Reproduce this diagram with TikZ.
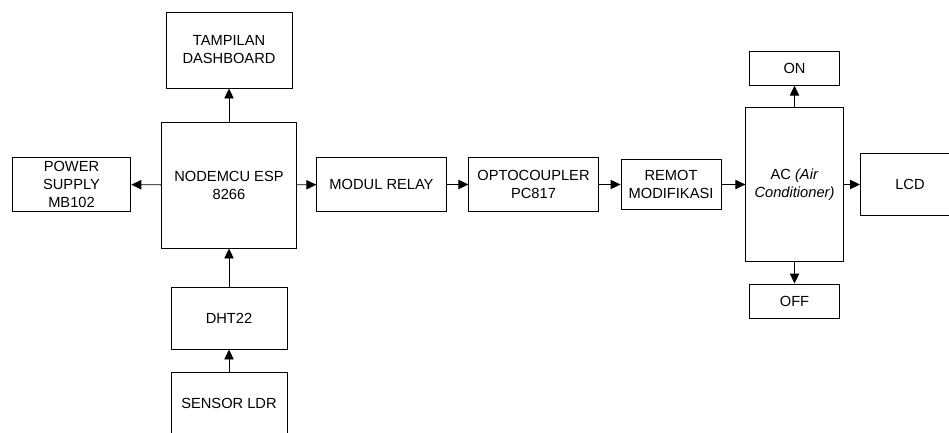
\documentclass[tikz,border=0pt]{standalone}
\usepackage{fontspec}
\setmainfont{Liberation Sans}
\usetikzlibrary{arrows.meta}
\begin{document}
\begin{tikzpicture}[x=0.75pt,y=-0.75pt,
  box/.style={draw=black, line width=0.7pt, align=center, inner sep=0pt,
    font=\fontsize{11}{13.5}\selectfont},
  arr/.style={draw=black, line width=0.7pt, -{Triangle[length=7.5pt,width=7pt]}}]
\clip (0,0) rectangle (949,432);
\fill[white] (0,0) rectangle (949,432);
\node[box, minimum width=94.5pt, minimum height=57pt] (dash) at (229,50) {TAMPILAN\\DASHBOARD};
\node[box, minimum width=101pt, minimum height=94.5pt] (mcu) at (229,185) {NODEMCU ESP\\8266};
\node[box, minimum width=89pt, minimum height=41pt] (ps) at (71.5,184.5) {POWER\\SUPPLY\\MB102};
\node[box, minimum width=87pt, minimum height=46.5pt] (dht) at (229,318) {DHT22};
\node[box, minimum width=87pt, minimum height=54pt, text depth=0pt] (ldr) at (229,408) {};
\node[font=\fontsize{11}{13.5}\selectfont, inner sep=0pt] (ldrt) at (229,403) {SENSOR LDR};
\node[box, minimum width=97pt, minimum height=41pt] (relay) at (381.5,184.5) {MODUL RELAY};
\node[box, minimum width=97pt, minimum height=41pt] (opto) at (533.5,184.5) {OPTOCOUPLER\\PC817};
\node[box, minimum width=75pt, minimum height=38pt] (remot) at (671,184.5) {REMOT\\MODIFIKASI};
\node[box, minimum width=73pt, minimum height=115pt] (ac) at (794.5,184.5) {AC \textit{(Air}\\\textit{Conditioner)}};
\node[box, minimum width=68pt, minimum height=25pt] (on) at (794.5,68.5) {ON};
\node[box, minimum width=68pt, minimum height=25.5pt] (off) at (794.5,301) {OFF};
\node[box, minimum width=75pt, minimum height=46pt, anchor=west] (lcd) at (860,184.5) {};
\node[font=\fontsize{11}{13.5}\selectfont, inner sep=0pt] (lcdt) at (910,184.5) {LCD};
\draw[arr] (mcu) -- (dash);
\draw[arr] (mcu) -- (ps);
\draw[arr] (mcu) -- (relay);
\draw[arr] (relay) -- (opto);
\draw[arr] (opto) -- (remot);
\draw[arr] (remot) -- (ac);
\draw[arr] (ac) -- (lcd);
\draw[arr] (ac) -- (on);
\draw[arr] (ac) -- (off);
\draw[arr] (dht) -- (mcu);
\draw[arr] (ldr) -- (dht);
\end{tikzpicture}
\end{document}
